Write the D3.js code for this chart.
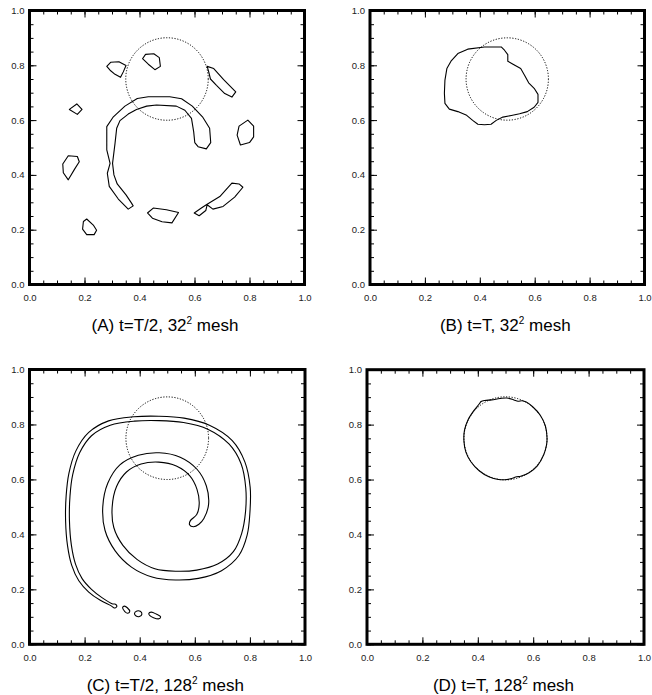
<!DOCTYPE html>
<html>
<head>
<meta charset="utf-8">
<script src="https://cdn.jsdelivr.net/npm/d3@7"></script>
<style>
  body { margin: 0; background: #fff; }
  svg { display: block; font-family: 'Liberation Sans', Arial, Helvetica, sans-serif; }
</style>
</head>
<body>
<div id="viz"></div>
<script>
// ---- data -------------------------------------------------------------
const majorTicks = [0.0, 0.2, 0.4, 0.6, 0.8, 1.0];
const panelLabels = ['(A)', '(B)', '(C)', '(D)'];
const panelTimes = ['t=T/2', 't=T', 't=T/2', 't=T'];
const panelMesh = [32, 32, 128, 128];

// initial disc (dotted reference)
const refCenter = [0.5, 0.75];
const refRadius = 0.15;

// (A) t=T/2, 32^2 mesh
const contoursA = [
  [[0.359,0.275],[0.323,0.312],[0.290,0.358],[0.283,0.406],[0.293,0.442],[0.281,0.491],[0.281,0.576],[0.305,0.612],[0.347,0.651],[0.392,0.679],[0.432,0.685],[0.510,0.685],[0.553,0.678],[0.592,0.651],[0.629,0.612],[0.655,0.570],[0.659,0.518],[0.643,0.495],[0.613,0.503],[0.601,0.518],[0.597,0.558],[0.589,0.606],[0.565,0.636],[0.534,0.651],[0.462,0.655],[0.426,0.651],[0.389,0.639],[0.359,0.622],[0.329,0.598],[0.317,0.570],[0.311,0.515],[0.302,0.442],[0.307,0.400],[0.319,0.367],[0.351,0.327],[0.371,0.297],[0.377,0.287]],
  [[0.281,0.796],[0.295,0.811],[0.325,0.813],[0.351,0.799],[0.341,0.776],[0.331,0.756],[0.311,0.767],[0.293,0.782]],
  [[0.411,0.824],[0.422,0.840],[0.452,0.842],[0.472,0.828],[0.476,0.796],[0.456,0.784],[0.432,0.804]],
  [[0.646,0.796],[0.670,0.788],[0.706,0.748],[0.750,0.703],[0.736,0.684],[0.710,0.697],[0.680,0.727],[0.658,0.750],[0.651,0.779]],
  [[0.145,0.639],[0.172,0.659],[0.191,0.639],[0.174,0.621]],
  [[0.762,0.578],[0.794,0.600],[0.815,0.578],[0.815,0.539],[0.800,0.518],[0.767,0.509],[0.755,0.545]],
  [[0.121,0.440],[0.141,0.470],[0.174,0.467],[0.181,0.448],[0.164,0.421],[0.141,0.382],[0.123,0.408]],
  [[0.599,0.261],[0.625,0.279],[0.643,0.291],[0.692,0.321],[0.736,0.370],[0.762,0.367],[0.776,0.355],[0.746,0.319],[0.704,0.285],[0.667,0.275],[0.646,0.291],[0.641,0.270],[0.617,0.251]],
  [[0.429,0.261],[0.450,0.279],[0.498,0.273],[0.542,0.263],[0.518,0.225],[0.482,0.229],[0.447,0.242]],
  [[0.196,0.230],[0.208,0.239],[0.232,0.217],[0.244,0.198],[0.235,0.182],[0.208,0.182],[0.193,0.202]]
];

// (B) t=T, 32^2 mesh
const contoursB = [
  [[0.280,0.788],[0.295,0.815],[0.320,0.843],[0.356,0.859],[0.417,0.867],[0.478,0.867],[0.490,0.855],[0.502,0.839],[0.502,0.815],[0.521,0.804],[0.549,0.788],[0.563,0.764],[0.578,0.736],[0.598,0.716],[0.612,0.694],[0.612,0.665],[0.598,0.647],[0.573,0.631],[0.545,0.623],[0.515,0.617],[0.484,0.611],[0.460,0.599],[0.441,0.585],[0.417,0.583],[0.393,0.585],[0.374,0.599],[0.350,0.619],[0.320,0.631],[0.289,0.640],[0.273,0.661],[0.271,0.698],[0.273,0.746]]
];

// (C) t=T/2, 128^2 mesh : spiral filament + three droplets
const contoursC = [
  [[0.298,0.139],[0.257,0.160],[0.215,0.190],[0.179,0.231],[0.153,0.288],[0.138,0.359],[0.131,0.450],[0.133,0.540],[0.143,0.622],[0.168,0.703],[0.215,0.771],[0.287,0.813],[0.379,0.828],[0.470,0.830],[0.561,0.823],[0.653,0.797],[0.736,0.741],[0.782,0.663],[0.801,0.571],[0.800,0.479],[0.790,0.397],[0.760,0.323],[0.697,0.268],[0.613,0.240],[0.530,0.234],[0.445,0.245],[0.370,0.281],[0.311,0.340],[0.274,0.415],[0.266,0.501],[0.284,0.586],[0.328,0.653],[0.395,0.688],[0.471,0.697],[0.547,0.681],[0.608,0.637],[0.642,0.576],[0.650,0.509],[0.633,0.458],
   [0.615,0.437],[0.595,0.428],[0.581,0.435],[0.584,0.450],
   [0.607,0.472],[0.616,0.511],[0.608,0.564],[0.582,0.613],[0.533,0.649],[0.469,0.663],[0.405,0.656],[0.352,0.627],[0.316,0.574],[0.300,0.499],[0.306,0.425],[0.339,0.360],[0.390,0.309],[0.455,0.275],[0.530,0.266],[0.607,0.270],[0.683,0.292],[0.740,0.337],[0.770,0.403],[0.784,0.481],[0.785,0.569],[0.768,0.657],[0.724,0.729],[0.647,0.783],[0.559,0.807],[0.470,0.814],[0.381,0.812],[0.293,0.797],[0.225,0.759],[0.182,0.697],[0.157,0.618],[0.147,0.540],[0.145,0.450],[0.152,0.361],[0.167,0.292],[0.191,0.239],[0.225,0.200],[0.263,0.170],[0.302,0.147],
   [0.312,0.146],[0.317,0.138],[0.308,0.132]],
  [[0.338,0.134],[0.345,0.139],[0.355,0.133],[0.364,0.120],[0.357,0.113],[0.346,0.119]],
  [[0.381,0.112],[0.390,0.121],[0.402,0.120],[0.408,0.110],[0.399,0.101],[0.387,0.103]],
  [[0.433,0.112],[0.442,0.117],[0.460,0.110],[0.476,0.100],[0.470,0.093],[0.450,0.097],[0.437,0.104]]
];

// (D) t=T, 128^2 mesh
const contoursD = [
  [[0.650,0.750],[0.644,0.795],[0.625,0.835],[0.598,0.865],[0.575,0.882],[0.560,0.887],[0.545,0.885],[0.530,0.890],[0.505,0.897],[0.480,0.895],[0.450,0.890],[0.425,0.888],[0.412,0.884],[0.405,0.875],[0.385,0.850],[0.365,0.818],[0.352,0.780],[0.350,0.740],[0.357,0.700],[0.375,0.665],[0.405,0.632],[0.440,0.610],[0.475,0.600],[0.505,0.600],[0.525,0.605],[0.540,0.610],[0.555,0.612],[0.585,0.625],[0.615,0.650],[0.638,0.690],[0.648,0.725]]
];

const panelContours = [contoursA, contoursB, contoursC, contoursD];
const panelSmooth = [false, false, true, true];

// ---- layout -----------------------------------------------------------
const config = {
  width: 652,
  height: 695,
  boxes: [
    { x0: 29.5, x1: 304.5, y0: 10.5, y1: 284.5 },
    { x0: 370, x1: 644.5, y0: 10.5, y1: 284.5 },
    { x0: 29.5, x1: 305, y0: 369.5, y1: 644.3 },
    { x0: 367, x1: 644, y0: 369.7, y1: 644.3 }
  ],
  captionOffset: 46.5
};

const svg = d3.select('#viz').append('svg')
  .attr('width', config.width)
  .attr('height', config.height);

panelContours.forEach((contours, i) => drawPanel(i, contours));

/**
 * Draws one of the four panels: contours, reference circle, axes, caption.
 */
function drawPanel(i, contours) {
  const box = config.boxes[i];
  const w = box.x1 - box.x0;
  const h = box.y1 - box.y0;
  const g = svg.append('g').attr('transform', `translate(${box.x0},${box.y0})`);

  const x = d3.scaleLinear().domain([0, 1]).range([0, w]);
  const y = d3.scaleLinear().domain([0, 1]).range([h, 0]);

  // dotted initial circle
  g.append('circle')
    .attr('cx', x(refCenter[0]))
    .attr('cy', y(refCenter[1]))
    .attr('r', x(refRadius) - x(0))
    .attr('fill', 'none')
    .attr('stroke', '#000')
    .attr('stroke-width', 1)
    .attr('stroke-dasharray', '1.2,1.6');

  const line = d3.line()
    .x(d => x(d[0]))
    .y(d => y(d[1]))
    .curve(panelSmooth[i] ? d3.curveCatmullRomClosed.alpha(0.5) : d3.curveLinearClosed);

  g.append('g').selectAll('path')
    .data(contours)
    .join('path')
    .attr('d', line)
    .attr('fill', 'none')
    .attr('stroke', '#000')
    .attr('stroke-width', 1.1)
    .attr('stroke-linejoin', 'round');

  drawAxes(g, x, y, w, h);

  // caption with superscript
  const cap = svg.append('text')
    .attr('x', box.x0 + w / 2 - 2)
    .attr('y', box.y1 + config.captionOffset)
    .attr('text-anchor', 'middle')
    .attr('font-size', 17)
    .attr('fill', '#000');
  cap.append('tspan').text(`${panelLabels[i]} ${panelTimes[i]}, ${panelMesh[i]}`);
  cap.append('tspan').attr('font-size', 10).attr('dy', -7).text('2');
  cap.append('tspan').attr('dy', 7).text(' mesh');
}

/**
 * Inward ticks on all four sides, labels on left and bottom, thick frame.
 */
function drawAxes(g, x, y, w, h) {
  const fmt = d3.format('.1f');
  const minor = x.ticks(20);

  const sides = [
    { axis: d3.axisBottom(x), at: `translate(0,${h})`, labels: true, pad: 9.5 },
    { axis: d3.axisTop(x), at: 'translate(0,0)', labels: false, pad: 3 },
    { axis: d3.axisLeft(y), at: 'translate(0,0)', labels: true, pad: 5 },
    { axis: d3.axisRight(y), at: `translate(${w},0)`, labels: false, pad: 3 }
  ];

  sides.forEach(s => {
    g.append('g')
      .attr('transform', s.at)
      .call(s.axis.tickValues(minor).tickSize(-4).tickFormat(''))
      .call(a => a.select('.domain').remove());

    const major = g.append('g')
      .attr('transform', s.at)
      .call(s.axis.tickValues(majorTicks).tickSize(-7)
        .tickPadding(s.pad)
        .tickFormat(s.labels ? fmt : ''))
      .call(a => a.select('.domain').remove());
    major.attr('font-size', 9.5).attr('font-family', null);
    major.selectAll('text').attr('fill', '#222');
  });

  g.selectAll('.tick line').attr('stroke', '#000').attr('stroke-width', 1);

  g.append('rect')
    .attr('width', w)
    .attr('height', h)
    .attr('fill', 'none')
    .attr('stroke', '#000')
    .attr('stroke-width', 3);
}
</script>
</body>
</html>
